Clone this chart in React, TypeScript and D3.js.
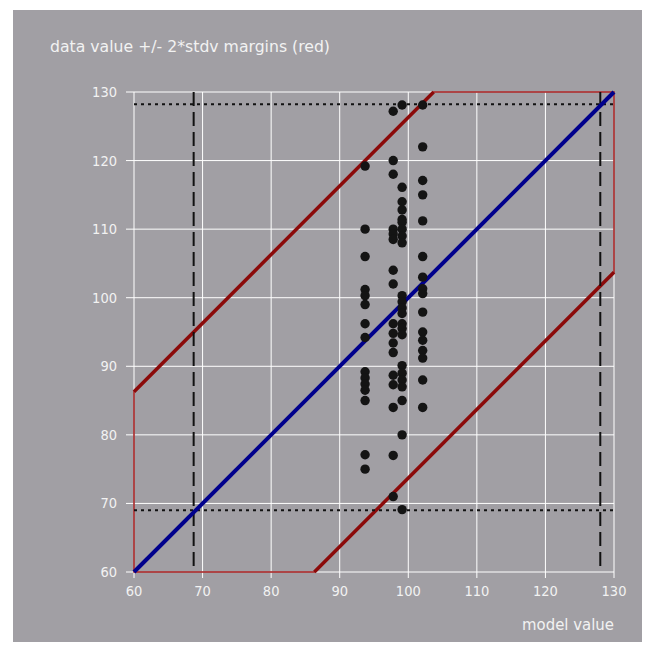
import React from "react";
import * as d3 from "d3";

const xTicks = [60, 70, 80, 90, 100, 110, 120, 130];
const yTicks = [60, 70, 80, 90, 100, 110, 120, 130];
const groupModel = [93.7, 97.8, 99.1, 102.1];
const dataA = [119.2, 110.0, 106.0, 101.2, 100.3, 99.0, 96.2, 94.2, 89.2, 88.3, 87.4, 86.5, 85.0, 77.1, 75.0];
const dataB = [127.2, 120.0, 118.0, 110.0, 109.3, 108.5, 104.0, 102.0, 96.2, 94.8, 93.4, 92.0, 88.7, 87.3, 84.0, 77.0, 71.0];
const dataC = [128.1, 116.1, 114.0, 112.8, 111.4, 111.0, 110.0, 109.0, 108.0, 100.3, 99.4, 98.5, 97.7, 96.2, 95.5, 94.6, 90.1, 89.0, 88.0, 87.0, 85.0, 80.0, 69.1];
const dataD = [128.1, 122.0, 117.1, 115.0, 111.2, 106.0, 103.0, 101.3, 100.6, 97.9, 95.0, 93.8, 92.3, 91.2, 88.0, 84.0];
const groups = [dataA, dataB, dataC, dataD];
const margin2sd = 26.3;
const vLines = [68.7, 128.0];
const hLines = [69.0, 128.2];
const domain: [number, number] = [60, 130];

export default function App() {
  const x = d3.scaleLinear().domain(domain).range([134, 614]);
  const y = d3.scaleLinear().domain(domain).range([572, 92]);
  const [lo, hi] = domain;
  const m = margin2sd;
  const poly: [number, number][] = [
    [lo, lo], [lo, lo + m], [hi - m, hi], [hi, hi], [hi, hi - m], [lo + m, lo],
  ];
  const line = d3.line<[number, number]>().x(d => x(d[0])).y(d => y(d[1]));
  const font = "'DejaVu Sans Condensed', 'DejaVu Sans', Verdana, sans-serif";
  const txt = "#f2f2f2";
  return (
    <svg width={655} height={650} style={{ position: "absolute", left: 0, top: 0 }}>
      <rect x={13} y={10} width={629} height={632} fill="#a19fa4" />
      <text x={50} y={52} fill={txt} fontFamily={font} fontSize={15} textLength={280} lengthAdjust="spacingAndGlyphs">data value +/- 2*stdv margins (red)</text>
      {/* grid */}
      {xTicks.map(t => (
        <g key={"x" + t}>
          <line x1={x(t)} x2={x(t)} y1={y(hi)} y2={y(lo) + 6} stroke="#ffffff" strokeWidth={1} />
          <text x={x(t)} y={y(lo) + 24} fill={txt} fontFamily={font} fontSize={14.5} textAnchor="middle">{t}</text>
        </g>
      ))}
      {yTicks.map(t => (
        <g key={"y" + t}>
          <line x1={x(lo) - 8} x2={x(hi)} y1={y(t)} y2={y(t)} stroke="#ffffff" strokeWidth={1} />
          <text x={x(lo) - 17} y={y(t) + 5} fill={txt} fontFamily={font} fontSize={14.5} textAnchor="end">{t}</text>
        </g>
      ))}
      <text x={x(hi)} y={630} fill={txt} fontFamily={font} fontSize={15} textAnchor="end" textLength={92} lengthAdjust="spacingAndGlyphs">model value</text>
      {/* margins polygon */}
      <path d={line(poly) + "Z"} fill="none" stroke="#a01818" strokeWidth={1.5} />
      <path d={line([[lo, lo + m], [hi - m, hi]]) || ""} stroke="#8b0a0a" strokeWidth={3.5} fill="none" />
      <path d={line([[lo + m, lo], [hi, hi - m]]) || ""} stroke="#8b0a0a" strokeWidth={3.5} fill="none" />
      {/* dashed/dotted limits */}
      {vLines.map(v => (
        <line key={"v" + v} x1={x(v)} x2={x(v)} y1={y(hi)} y2={y(lo)} stroke="#111" strokeWidth={2} strokeDasharray="14,6" />
      ))}
      {hLines.map(h => (
        <line key={"h" + h} x1={x(lo)} x2={x(hi)} y1={y(h)} y2={y(h)} stroke="#111" strokeWidth={2} strokeDasharray="3,4" />
      ))}
      {/* identity line */}
      <path d={line([[lo, lo], [hi, hi]]) || ""} stroke="#00008c" strokeWidth={4} fill="none" />
      {/* points */}
      {groups.map((g, gi) => g.map((v, i) => (
        <circle key={gi + "-" + i} cx={x(groupModel[gi])} cy={y(v)} r={4.7} fill="#141414" />
      )))}
    </svg>
  );
}
